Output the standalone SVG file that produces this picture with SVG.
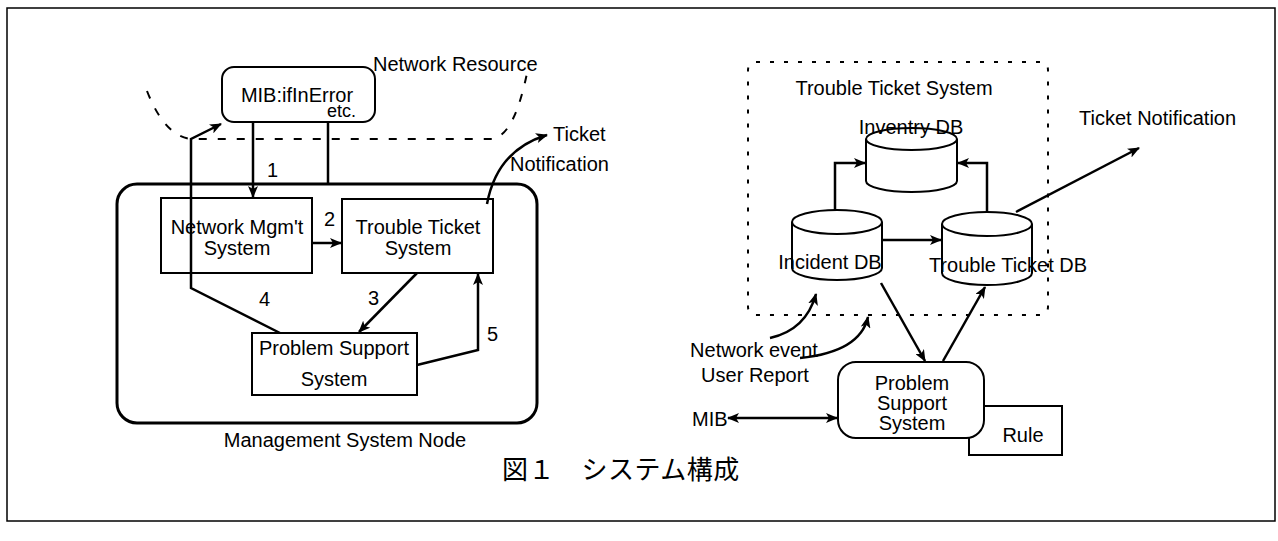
<svg xmlns="http://www.w3.org/2000/svg" width="1278" height="541" viewBox="0 0 1278 541">
<defs>
<marker id="ah" viewBox="0 0 12 10" refX="11" refY="5" markerWidth="12" markerHeight="10" markerUnits="userSpaceOnUse" orient="auto-start-reverse">
<path d="M0,0 L12,5 L0,10 L3,5 z" fill="#000"/>
</marker>
<style>
text{font-family:"Liberation Sans",Arial,sans-serif;fill:#000;font-size:20px}
.c{text-anchor:middle}
.box{fill:#fff;stroke:#000;stroke-width:2}
.thick{fill:none;stroke:#000;stroke-width:3}
.cn{fill:none;stroke:#000;stroke-width:2.5}
.dash1{fill:none;stroke:#000;stroke-width:2;stroke-dasharray:8 11}
.dash2{fill:none;stroke:#000;stroke-width:2;stroke-dasharray:4 10}
.cyl{fill:#fff;stroke:#000;stroke-width:2}
.cap{font-family:"Liberation Serif","Noto Sans CJK JP",serif;font-size:26px}
</style>
</defs>
<rect width="1278" height="541" fill="#fff"/>
<rect x="7" y="8" width="1268" height="513" fill="none" stroke="#000" stroke-width="1.5"/>

<!-- Left diagram -->
<g id="network-resource">
<path class="dash1" d="M147,91 Q165,137 192,139 L492,139 Q515,136 528,68"/>
<text x="373" y="71">Network Resource</text>
</g>
<g id="mgmt-node">
<rect class="thick" x="117" y="184" width="420" height="239" rx="20"/>
<text class="c" x="345" y="447">Management System Node</text>
</g>
<g id="mib">
<rect class="box" x="222" y="67" width="153" height="55" rx="12" stroke-width="2.5"/>
<text class="c" x="297" y="102">MIB:ifInError</text>
<text x="356" y="117" text-anchor="end" style="font-size:18px">etc.</text>
</g>
<g id="nms">
<rect class="box" x="161" y="198" width="151" height="75"/>
<text class="c" x="237" y="234">Network Mgm't</text>
<text class="c" x="237" y="255">System</text>
</g>
<g id="tts">
<rect class="box" x="342" y="199" width="151" height="74"/>
<text class="c" x="418" y="234">Trouble Ticket</text>
<text class="c" x="418" y="255">System</text>
</g>
<g id="pss-left">
<rect class="box" x="252" y="333" width="165" height="62"/>
<text class="c" x="334" y="355">Problem Support</text>
<text class="c" x="334" y="386">System</text>
</g>

<g id="connectors-left">
<line class="cn" x1="253" y1="122" x2="253" y2="197" marker-end="url(#ah)"/>
<polyline class="cn" points="328,122 328,184"/>
<line class="cn" x1="312" y1="243" x2="341" y2="243" marker-end="url(#ah)"/>
<line class="cn" x1="417" y1="273" x2="359" y2="332" marker-end="url(#ah)"/>
<polyline class="cn" points="280,333 191,288 191,139 221,124" marker-end="url(#ah)"/>
<polyline class="cn" points="417,365 478,350 478,274" marker-end="url(#ah)"/>
<path class="cn" d="M487,204 Q497,150 547,135" marker-end="url(#ah)"/>
</g>
<g id="labels-left">
<text x="267" y="177">1</text>
<text x="324" y="226">2</text>
<text x="368" y="305">3</text>
<text x="259" y="306">4</text>
<text x="487" y="341">5</text>
<text x="553" y="141">Ticket</text>
<text x="510" y="171">Notification</text>
</g>

<!-- Right diagram -->
<g id="tts-boundary">
<rect class="dash2" x="748" y="62" width="300" height="253" rx="8"/>
<text class="c" x="894" y="95">Trouble Ticket System</text>
</g>

<g id="connectors-right">
<polyline class="cn" points="835,210 835,163 865,163" marker-end="url(#ah)"/>
<polyline class="cn" points="987,211 987,163 958,163" marker-end="url(#ah)"/>
<line class="cn" x1="882" y1="240" x2="941" y2="240" marker-end="url(#ah)"/>
<line class="cn" x1="1016" y1="212" x2="1139" y2="148" marker-end="url(#ah)"/>
<line class="cn" x1="881" y1="283" x2="925" y2="361" marker-end="url(#ah)"/>
<line class="cn" x1="943" y1="361" x2="985" y2="287" marker-end="url(#ah)"/>
<path class="cn" d="M770,338 Q806,330 816,294" marker-end="url(#ah)"/>
<path class="cn" d="M800,358 Q860,352 868,317" marker-end="url(#ah)"/>
<line class="cn" x1="728" y1="418" x2="837" y2="418" marker-start="url(#ah)" marker-end="url(#ah)"/>
</g>

<g id="inventry-db">
<path class="cyl" d="M866,139 V181 A45.5,11 0 0 0 957,181 V139"/>
<ellipse class="cyl" cx="911.5" cy="139" rx="45.5" ry="11"/>
<text class="c" x="911" y="134">Inventry DB</text>
</g>
<g id="incident-db">
<path class="cyl" d="M792,222 V268 A45,12 0 0 0 882,268 V222"/>
<ellipse class="cyl" cx="837" cy="222" rx="45" ry="12"/>
<text class="c" x="830" y="269">Incident DB</text>
</g>
<g id="trouble-ticket-db">
<path class="cyl" d="M942,224 V273 A45,12 0 0 0 1032,273 V224"/>
<ellipse class="cyl" cx="987" cy="224" rx="45" ry="12"/>
<text class="c" x="1008" y="272">Trouble Ticket DB</text>
</g>
<g id="ticket-notification">
<text x="1079" y="125">Ticket Notification</text>
</g>
<g id="inputs">
<text class="c" x="754" y="357">Network event</text>
<text class="c" x="755" y="382">User Report</text>
</g>
<g id="mib-right">
<text x="692" y="426">MIB</text>
</g>
<g id="rule">
<rect class="box" x="969" y="406" width="93" height="49"/>
<text class="c" x="1023" y="442">Rule</text>
</g>
<g id="pss-right">
<rect class="box" x="838" y="362" width="146" height="76" rx="18" stroke-width="2.5"/>
<text class="c" x="912" y="390">Problem</text>
<text class="c" x="912" y="410">Support</text>
<text class="c" x="912" y="430">System</text>
</g>

<g id="caption">
<text class="cap" x="502" y="479" letter-spacing="0.5">図１　システム構成</text>
</g>
</svg>
